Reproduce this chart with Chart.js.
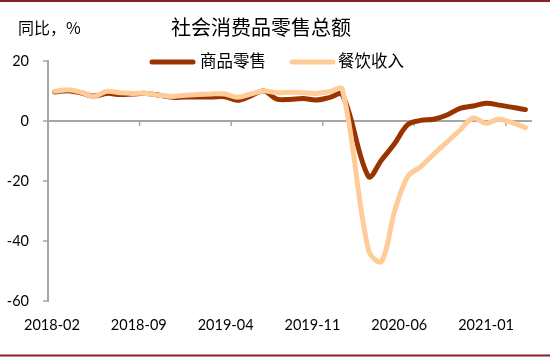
<!DOCTYPE html>
<html><head><meta charset="utf-8">
<script src="https://cdn.jsdelivr.net/npm/chart.js@4/dist/chart.umd.min.js"></script>
<style>html,body{margin:0;padding:0;background:#fff}canvas{display:block}</style>
</head><body>
<canvas id="c" width="550" height="358"></canvas>
<script>
const title = '社会消费品零售总额';
const unitLabel = '同比，%';
const seriesNames = ['商品零售', '餐饮收入'];
const months = ['2017-12','2018-01','2018-02','2018-03','2018-04','2018-05','2018-06','2018-07','2018-08','2018-09','2018-10','2018-11','2018-12',
  '2019-01','2019-02','2019-03','2019-04','2019-05','2019-06','2019-07','2019-08','2019-09','2019-10','2019-11','2019-12',
  '2020-01','2020-02','2020-03','2020-04','2020-05','2020-06','2020-07','2020-08','2020-09','2020-10','2020-11','2020-12',
  '2021-01','2021-02'];
const goods = [9.4,null,9.7,10.1,9.4,8.3,9.2,8.8,9.0,9.2,8.6,7.9,8.0,
  null,8.0,8.1,6.9,8.4,10.0,7.3,7.2,7.5,7.0,7.8,8.8,
  null,-18.5,-13.0,-7.5,-1.2,0.2,0.6,2.0,4.2,5.0,5.9,5.3,
  null,3.8];
const catering = [10.0,null,9.9,10.4,9.6,8.2,9.9,9.4,9.2,9.2,8.6,8.2,8.6,
  null,9.0,9.0,7.9,9.0,10.0,9.4,9.6,9.4,9.2,9.8,10.5,
  null,-43.1,-46.8,-30.0,-18.5,-15.2,-11.0,-7.0,-3.0,1.0,-0.8,0.6,
  null,-2.2];
const tickLabels = ['2018-02','2018-09','2019-04','2019-11','2020-06','2021-01'];
const yTicks = [20,0,-20,-40,-60];

const colors = ['#993300', '#FFCC99'];
const firstMonth = months.indexOf('2018-02');
const toX = i => i - firstMonth + 0.5;             // centre of the month slot
const tickVal = l => months.indexOf(l) - firstMonth; // start of the month slot
const mk = arr => months.map((m, i) => ({x: toX(i), y: arr[i]}));

const decor = {
  id: 'decor',
  beforeDraw(chart) {
    const ctx = chart.ctx;
    ctx.save(); ctx.fillStyle = '#fff'; ctx.fillRect(0, 0, chart.width, chart.height); ctx.restore();
  },
  beforeDatasetsDraw(chart) {
    const ctx = chart.ctx, x = chart.scales.x, y = chart.scales.y;
    const y0 = y.getPixelForValue(0);
    ctx.save();
    ctx.strokeStyle = '#A6A6A6'; ctx.lineWidth = 1.5;
    tickLabels.forEach(l => {
      const px = x.getPixelForValue(tickVal(l));
      if (px <= chart.chartArea.left + 1) return;
      ctx.beginPath(); ctx.moveTo(px, y0); ctx.lineTo(px, y0 + 5); ctx.stroke();
    });
    ctx.restore();
  },
  afterDraw(chart) {
    const ctx = chart.ctx;
    ctx.save();
    ctx.fillStyle = '#000';
    ctx.textBaseline = 'middle';
    ctx.font = '20px "Noto Sans CJK SC"';
    ctx.textAlign = 'center';
    ctx.fillText(title, 261, 27);
    ctx.font = '16px "Noto Sans CJK SC"';
    ctx.textAlign = 'left';
    ctx.fillText(unitLabel, 18, 28);
    // legend
    const items = [{x: 150, tx: 200}, {x: 290, tx: 338}];
    chart.data.datasets.forEach((ds, i) => {
      const it = items[i];
      ctx.strokeStyle = ds.borderColor; ctx.lineWidth = 5; ctx.lineCap = 'round';
      ctx.beginPath(); ctx.moveTo(it.x + 2, 62); ctx.lineTo(it.x + 43, 62); ctx.stroke();
      ctx.fillStyle = '#000';
      ctx.font = '16.5px "Noto Sans CJK SC"';
      ctx.fillText(ds.label, it.tx, 61);
    });
    // frame lines
    ctx.strokeStyle = '#8B1E1E'; ctx.lineWidth = 2; ctx.lineCap = 'butt';
    ctx.beginPath(); ctx.moveTo(0, 1); ctx.lineTo(chart.width, 1); ctx.stroke();
    ctx.beginPath(); ctx.moveTo(0, 355.5); ctx.lineTo(chart.width, 355.5); ctx.stroke();
    ctx.restore();
  }
};

const common = {
  borderWidth: 5, pointRadius: 0, pointHoverRadius: 0, tension: 0.35,
  spanGaps: true, borderCapStyle: 'round', borderJoinStyle: 'round', fill: false,
  clip: {left: 0, right: 8, top: 8, bottom: 8}, xAxisID: 'x', yAxisID: 'y'
};

new Chart(document.getElementById('c'), {
  type: 'line',
  data: {
    datasets: [
      Object.assign({label: seriesNames[0], data: mk(goods), borderColor: colors[0], order: 1}, common),
      Object.assign({label: seriesNames[1], data: mk(catering), borderColor: colors[1], order: 0}, common)
    ]
  },
  options: {
    responsive: false, animation: false, devicePixelRatio: 1,
    layout: {padding: {left: 0, right: 18, top: 61, bottom: 0}},
    plugins: {legend: {display: false}, tooltip: {enabled: false}, title: {display: false}},
    scales: {
      x: {type: 'linear', display: false, min: 0, max: 37},
      xl: {
        type: 'linear', position: 'bottom', min: -0.32, max: 38.7,
        grid: {display: false, drawTicks: false}, border: {display: false},
        afterBuildTicks: s => { s.ticks = tickLabels.map(l => ({value: tickVal(l)})); },
        afterFit: s => { s.height = 57; },
        ticks: {
          autoSkip: false, maxRotation: 0, padding: 16, color: '#000',
          font: {family: 'Lato', size: 14.5},
          callback: v => { const k = tickLabels.findIndex(l => tickVal(l) === v); return k >= 0 ? tickLabels[k] : ''; }
        }
      },
      y: {
        min: -60, max: 20,
        afterBuildTicks: s => { s.ticks = yTicks.map(v => ({value: v})); },
        afterFit: s => { s.width = 48; },
        border: {display: true, color: '#A6A6A6', width: 2},
        grid: {
          drawOnChartArea: true, drawTicks: true, tickLength: 5, tickColor: '#A6A6A6', tickWidth: 1.5,
          color: c => c.tick && c.tick.value === 0 ? '#A6A6A6' : 'rgba(0,0,0,0)',
          lineWidth: 2
        },
        ticks: {padding: 14, color: '#000', font: {family: 'Lato', size: 14.5}}
      }
    }
  },
  plugins: [decor]
});
</script>
</body></html>
